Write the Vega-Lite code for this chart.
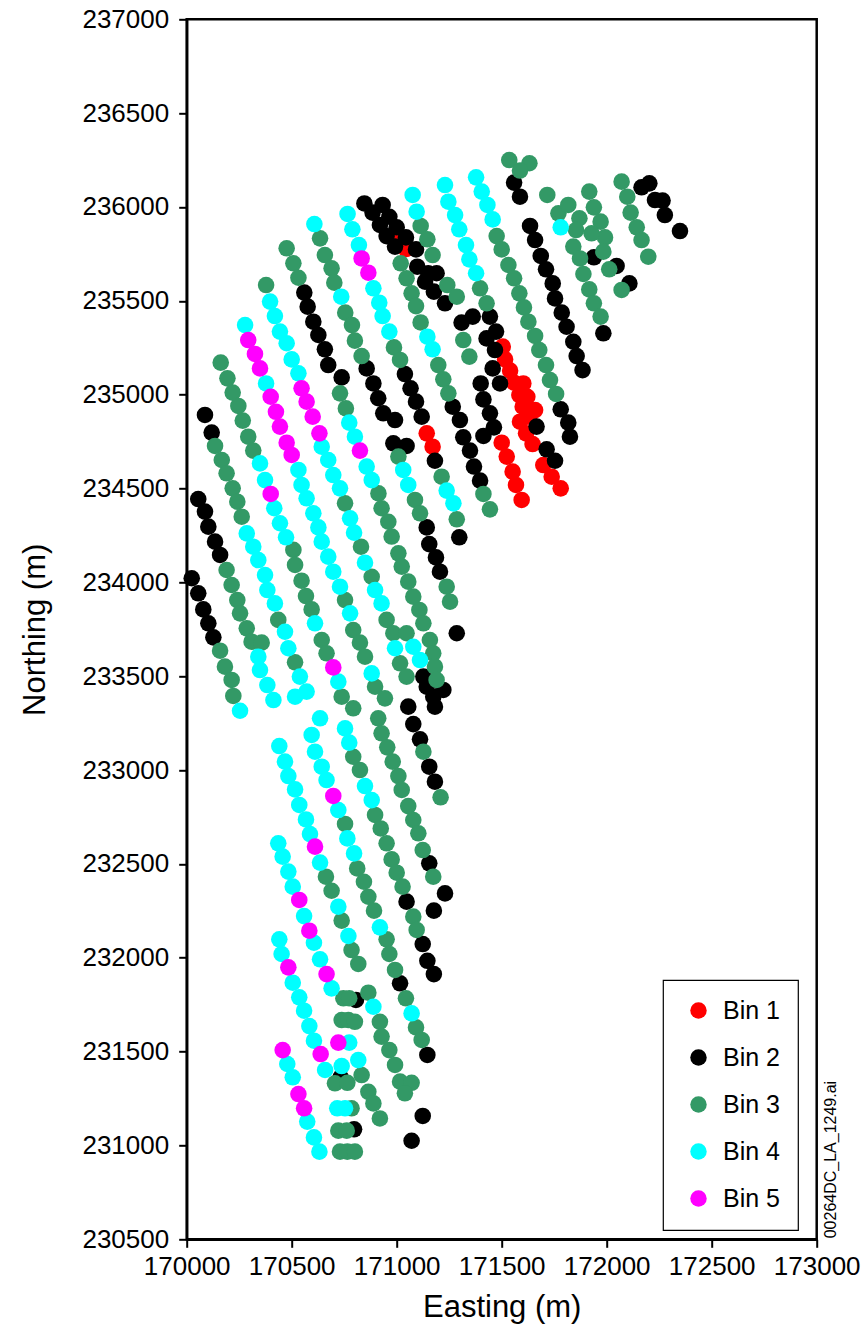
{
  "$schema": "https://vega.github.io/schema/vega-lite/v6.json",
  "width": 630,
  "height": 1220,
  "autosize": {"type": "none"},
  "padding": {"left": 186.7, "top": 19.3, "right": 50.3, "bottom": 100.7},
  "background": "white",
  "config": {
    "font": "Liberation Sans",
    "view": {"stroke": "black", "strokeWidth": 2.5},
    "axis": {"grid": false, "domainColor": "black", "domainWidth": 2.5, "tickColor": "black", "tickWidth": 2, "tickSize": 8, "labelColor": "black", "labelFontSize": 26, "labelFont": "Liberation Sans", "titleFont": "Liberation Sans", "titleFontWeight": "normal", "titleFontSize": 31, "titleColor": "black", "labelOverlap": false, "labelFlush": false, "labelBound": false},
    "legend": {"strokeColor": "black", "strokeWidth": 1.2, "fillColor": "white", "padding": 18}
  },
  "layer": [
    {
      "data": {"values": [
        {"e":171008,"n":235828,"b":1},{"e":171044,"n":235776,"b":1},{"e":171505,"n":235256,"b":1},{"e":171516,"n":235188,"b":1},{"e":171540,"n":235128,"b":1},{"e":171559,"n":235064,"b":1},{"e":171584,"n":234998,"b":1},{"e":171600,"n":234936,"b":1},{"e":171632,"n":234883,"b":1},{"e":171587,"n":234856,"b":1},{"e":171603,"n":235060,"b":1},{"e":171622,"n":234989,"b":1},{"e":171659,"n":234918,"b":1},{"e":171143,"n":234794,"b":1},{"e":171171,"n":234723,"b":1},{"e":171500,"n":234744,"b":1},{"e":171524,"n":234670,"b":1},{"e":171552,"n":234590,"b":1},{"e":171568,"n":234519,"b":1},{"e":171595,"n":234439,"b":1},{"e":171616,"n":234794,"b":1},{"e":171647,"n":234737,"b":1},{"e":171698,"n":234625,"b":1},{"e":171738,"n":234563,"b":1},{"e":171781,"n":234501,"b":1},
        {"e":170846,"n":236019,"b":2},{"e":170933,"n":236011,"b":2},{"e":170885,"n":235970,"b":2},{"e":170965,"n":235948,"b":2},{"e":170920,"n":235904,"b":2},{"e":171000,"n":235892,"b":2},{"e":170952,"n":235845,"b":2},{"e":171044,"n":235838,"b":2},{"e":170992,"n":235789,"b":2},{"e":171092,"n":235774,"b":2},{"e":171098,"n":235682,"b":2},{"e":171150,"n":235647,"b":2},{"e":171190,"n":235647,"b":2},{"e":171135,"n":235602,"b":2},{"e":170560,"n":235544,"b":2},{"e":171177,"n":235549,"b":2},{"e":170576,"n":235469,"b":2},{"e":171230,"n":235487,"b":2},{"e":170603,"n":235389,"b":2},{"e":170627,"n":235318,"b":2},{"e":170658,"n":235242,"b":2},{"e":170674,"n":235158,"b":2},{"e":170857,"n":235140,"b":2},{"e":171039,"n":235110,"b":2},{"e":170738,"n":235092,"b":2},{"e":170889,"n":235060,"b":2},{"e":171066,"n":235034,"b":2},{"e":170912,"n":234981,"b":2},{"e":171092,"n":234963,"b":2},{"e":170936,"n":234901,"b":2},{"e":170992,"n":234865,"b":2},{"e":171119,"n":234883,"b":2},{"e":170087,"n":234892,"b":2},
        {"e":171559,"n":236130,"b":2},{"e":171587,"n":236055,"b":2},{"e":171781,"n":234922,"b":2},{"e":171817,"n":234851,"b":2},{"e":171635,"n":235899,"b":2},{"e":171659,"n":235824,"b":2},{"e":171686,"n":235739,"b":2},{"e":171711,"n":235668,"b":2},{"e":171743,"n":235593,"b":2},{"e":171754,"n":235513,"b":2},{"e":171786,"n":235437,"b":2},{"e":171809,"n":235362,"b":2},{"e":171841,"n":235282,"b":2},{"e":171857,"n":235206,"b":2},{"e":171885,"n":235131,"b":2},{"e":171984,"n":235327,"b":2},{"e":171939,"n":235732,"b":2},{"e":172047,"n":235686,"b":2},{"e":172108,"n":235593,"b":2},{"e":172166,"n":236105,"b":2},{"e":172203,"n":236126,"b":2},{"e":172230,"n":236037,"b":2},{"e":172266,"n":236034,"b":2},{"e":172277,"n":235957,"b":2},{"e":172349,"n":235872,"b":2},{"e":171309,"n":235384,"b":2},{"e":171362,"n":235416,"b":2},{"e":171444,"n":235416,"b":2},{"e":171473,"n":235336,"b":2},{"e":171428,"n":235300,"b":2},{"e":171468,"n":235238,"b":2},{"e":171457,"n":235140,"b":2},{"e":171492,"n":235060,"b":2},{"e":171400,"n":235060,"b":2},{"e":171413,"n":234975,"b":2},{"e":171444,"n":234901,"b":2},{"e":171267,"n":234936,"b":2},{"e":171301,"n":234865,"b":2},
        {"e":170119,"n":234798,"b":2},{"e":170984,"n":234741,"b":2},{"e":171047,"n":234727,"b":2},{"e":171182,"n":234648,"b":2},{"e":170055,"n":234444,"b":2},{"e":170087,"n":234377,"b":2},{"e":171143,"n":234293,"b":2},{"e":170103,"n":234297,"b":2},{"e":171155,"n":234204,"b":2},{"e":170135,"n":234217,"b":2},{"e":171187,"n":234133,"b":2},{"e":170159,"n":234146,"b":2},{"e":171206,"n":234057,"b":2},{"e":170024,"n":234022,"b":2},{"e":170055,"n":233942,"b":2},{"e":170079,"n":233856,"b":2},{"e":170103,"n":233782,"b":2},{"e":170127,"n":233707,"b":2},{"e":171127,"n":233498,"b":2},{"e":171143,"n":233444,"b":2},{"e":171174,"n":233391,"b":2},{"e":171222,"n":233427,"b":2},{"e":171055,"n":233338,"b":2},{"e":171182,"n":233338,"b":2},
        {"e":171317,"n":234773,"b":2},{"e":171349,"n":234702,"b":2},{"e":171368,"n":234617,"b":2},{"e":171397,"n":234542,"b":2},{"e":171413,"n":234780,"b":2},{"e":171463,"n":234826,"b":2},{"e":171666,"n":234830,"b":2},{"e":171714,"n":234709,"b":2},{"e":171754,"n":234648,"b":2},{"e":171825,"n":234776,"b":2},{"e":171298,"n":234240,"b":2},{"e":171286,"n":233729,"b":2},
        {"e":171079,"n":233245,"b":2},{"e":171111,"n":233164,"b":2},{"e":171155,"n":233018,"b":2},{"e":171182,"n":232938,"b":2},{"e":171155,"n":232503,"b":2},{"e":171230,"n":232343,"b":2},{"e":171047,"n":232299,"b":2},{"e":171177,"n":232251,"b":2},{"e":171124,"n":232073,"b":2},
        {"e":171146,"n":231984,"b":2},{"e":171177,"n":231913,"b":2},{"e":171016,"n":231864,"b":2},{"e":170806,"n":231775,"b":2},{"e":171146,"n":231482,"b":2},{"e":170733,"n":231363,"b":2},{"e":171124,"n":231157,"b":2},{"e":170797,"n":231086,"b":2},{"e":171071,"n":231025,"b":2},
        {"e":171114,"n":235899,"b":3},{"e":170635,"n":235833,"b":3},{"e":171146,"n":235828,"b":3},{"e":170476,"n":235780,"b":3},{"e":170658,"n":235744,"b":3},{"e":171171,"n":235744,"b":3},{"e":171019,"n":235700,"b":3},{"e":170508,"n":235700,"b":3},{"e":170690,"n":235673,"b":3},{"e":170532,"n":235623,"b":3},{"e":171047,"n":235620,"b":3},{"e":170703,"n":235597,"b":3},{"e":170378,"n":235584,"b":3},{"e":171071,"n":235540,"b":3},{"e":171092,"n":235472,"b":3},{"e":170755,"n":235437,"b":3},{"e":171114,"n":235385,"b":3},{"e":170787,"n":235371,"b":3},{"e":170801,"n":235288,"b":3},{"e":170987,"n":235252,"b":3},{"e":170833,"n":235206,"b":3},{"e":171016,"n":235185,"b":3},{"e":171198,"n":235158,"b":3},{"e":170162,"n":235171,"b":3},{"e":170194,"n":235087,"b":3},{"e":171222,"n":235082,"b":3},{"e":170730,"n":235007,"b":3},{"e":170219,"n":235011,"b":3},{"e":170246,"n":234940,"b":3},{"e":170758,"n":234927,"b":3},{"e":170267,"n":234862,"b":3},
        {"e":171536,"n":236250,"b":3},{"e":171632,"n":236233,"b":3},{"e":171587,"n":236194,"b":3},{"e":171476,"n":235845,"b":3},{"e":171500,"n":235774,"b":3},{"e":171532,"n":235691,"b":3},{"e":171559,"n":235620,"b":3},{"e":171584,"n":235540,"b":3},{"e":171606,"n":235465,"b":3},{"e":171627,"n":235389,"b":3},{"e":171659,"n":235313,"b":3},{"e":171679,"n":235238,"b":3},{"e":171711,"n":235158,"b":3},{"e":171730,"n":235078,"b":3},{"e":171759,"n":235004,"b":3},{"e":171717,"n":236064,"b":3},{"e":171770,"n":235966,"b":3},{"e":171817,"n":236011,"b":3},{"e":171870,"n":235940,"b":3},{"e":171854,"n":235877,"b":3},{"e":171917,"n":236082,"b":3},{"e":171939,"n":235998,"b":3},{"e":171971,"n":235922,"b":3},{"e":171992,"n":235838,"b":3},{"e":171928,"n":235860,"b":3},{"e":171841,"n":235789,"b":3},{"e":171984,"n":235762,"b":3},{"e":171873,"n":235726,"b":3},{"e":171889,"n":235643,"b":3},{"e":171917,"n":235561,"b":3},{"e":171939,"n":235487,"b":3},{"e":171971,"n":235416,"b":3},{"e":172012,"n":235668,"b":3},{"e":172071,"n":235558,"b":3},{"e":172071,"n":236135,"b":3},{"e":172098,"n":236055,"b":3},{"e":172114,"n":235970,"b":3},{"e":172143,"n":235892,"b":3},{"e":172166,"n":235824,"b":3},{"e":172198,"n":235735,"b":3},{"e":171241,"n":235584,"b":3},{"e":171286,"n":235522,"b":3},{"e":171317,"n":235291,"b":3},{"e":171346,"n":235203,"b":3},{"e":171246,"n":235007,"b":3},{"e":171397,"n":235567,"b":3},{"e":171428,"n":235487,"b":3},
        {"e":170135,"n":234727,"b":3},{"e":170293,"n":234776,"b":3},{"e":170317,"n":234702,"b":3},{"e":171008,"n":234670,"b":3},{"e":170167,"n":234652,"b":3},{"e":171214,"n":234563,"b":3},{"e":170190,"n":234581,"b":3},{"e":170219,"n":234501,"b":3},{"e":170913,"n":234474,"b":3},{"e":171087,"n":234439,"b":3},{"e":170241,"n":234430,"b":3},{"e":170754,"n":234421,"b":3},{"e":170928,"n":234395,"b":3},{"e":171111,"n":234368,"b":3},{"e":170262,"n":234350,"b":3},{"e":170960,"n":234323,"b":3},{"e":170976,"n":234244,"b":3},{"e":170508,"n":234173,"b":3},{"e":170830,"n":234190,"b":3},{"e":171008,"n":234155,"b":3},{"e":170516,"n":234093,"b":3},{"e":171024,"n":234084,"b":3},{"e":170190,"n":234066,"b":3},{"e":170547,"n":234009,"b":3},{"e":170881,"n":234030,"b":3},{"e":171055,"n":234004,"b":3},{"e":170214,"n":233986,"b":3},{"e":170568,"n":233927,"b":3},{"e":170754,"n":233906,"b":3},{"e":171079,"n":233924,"b":3},{"e":170241,"n":233906,"b":3},{"e":170595,"n":233856,"b":3},{"e":171108,"n":233853,"b":3},{"e":170254,"n":233835,"b":3},{"e":170436,"n":233800,"b":3},{"e":170793,"n":233746,"b":3},{"e":170952,"n":233800,"b":3},{"e":171127,"n":233782,"b":3},{"e":170286,"n":233755,"b":3},{"e":170643,"n":233693,"b":3},{"e":170825,"n":233679,"b":3},{"e":170984,"n":233729,"b":3},{"e":171047,"n":233729,"b":3},{"e":171158,"n":233693,"b":3},{"e":170309,"n":233684,"b":3},{"e":170357,"n":233679,"b":3},{"e":170666,"n":233622,"b":3},{"e":170849,"n":233604,"b":3},{"e":171016,"n":233569,"b":3},{"e":171174,"n":233622,"b":3},{"e":170159,"n":233636,"b":3},{"e":170516,"n":233574,"b":3},{"e":171047,"n":233498,"b":3},{"e":171182,"n":233551,"b":3},{"e":170182,"n":233551,"b":3},{"e":170897,"n":233444,"b":3},{"e":171190,"n":233480,"b":3},{"e":170214,"n":233480,"b":3},{"e":170738,"n":233391,"b":3},{"e":170944,"n":233382,"b":3},{"e":170222,"n":233395,"b":3},{"e":170793,"n":233329,"b":3},
        {"e":171286,"n":234336,"b":3},{"e":171413,"n":234471,"b":3},{"e":171444,"n":234389,"b":3},{"e":171238,"n":233977,"b":3},{"e":171254,"n":233897,"b":3},
        {"e":170912,"n":233276,"b":3},{"e":170928,"n":233196,"b":3},{"e":170955,"n":233121,"b":3},{"e":170793,"n":233071,"b":3},{"e":171127,"n":233098,"b":3},{"e":170981,"n":233045,"b":3},{"e":170825,"n":233000,"b":3},{"e":171008,"n":232968,"b":3},{"e":171024,"n":232894,"b":3},{"e":171209,"n":232855,"b":3},{"e":171055,"n":232808,"b":3},{"e":170897,"n":232761,"b":3},{"e":170754,"n":232713,"b":3},{"e":171079,"n":232734,"b":3},{"e":170924,"n":232689,"b":3},{"e":171103,"n":232663,"b":3},{"e":170952,"n":232610,"b":3},{"e":171124,"n":232574,"b":3},{"e":170976,"n":232524,"b":3},{"e":170812,"n":232476,"b":3},{"e":171000,"n":232453,"b":3},{"e":170663,"n":232432,"b":3},{"e":171174,"n":232432,"b":3},{"e":170844,"n":232405,"b":3},{"e":171028,"n":232379,"b":3},{"e":170690,"n":232357,"b":3},{"e":170865,"n":232325,"b":3},{"e":170892,"n":232251,"b":3},{"e":171079,"n":232219,"b":3},{"e":170738,"n":232198,"b":3},{"e":171095,"n":232148,"b":3},{"e":170952,"n":232098,"b":3},
        {"e":170785,"n":232041,"b":3},{"e":170965,"n":232020,"b":3},{"e":170817,"n":231967,"b":3},{"e":170992,"n":231935,"b":3},{"e":170865,"n":231814,"b":3},{"e":170746,"n":231784,"b":3},{"e":170774,"n":231784,"b":3},{"e":171044,"n":231784,"b":3},{"e":170738,"n":231668,"b":3},{"e":170770,"n":231668,"b":3},{"e":170801,"n":231659,"b":3},{"e":170920,"n":231659,"b":3},{"e":171092,"n":231629,"b":3},{"e":170928,"n":231580,"b":3},{"e":171119,"n":231562,"b":3},{"e":170965,"n":231508,"b":3},{"e":170992,"n":231429,"b":3},{"e":170833,"n":231375,"b":3},{"e":170706,"n":231331,"b":3},{"e":170765,"n":231334,"b":3},{"e":171016,"n":231340,"b":3},{"e":171071,"n":231334,"b":3},{"e":171039,"n":231278,"b":3},{"e":170865,"n":231286,"b":3},{"e":170889,"n":231224,"b":3},{"e":170785,"n":231198,"b":3},{"e":170920,"n":231144,"b":3},{"e":170722,"n":231079,"b":3},{"e":170762,"n":231079,"b":3},{"e":170730,"n":230967,"b":3},{"e":170765,"n":230967,"b":3},{"e":170801,"n":230967,"b":3},
        {"e":171076,"n":236064,"b":4},{"e":171095,"n":235975,"b":4},{"e":170766,"n":235963,"b":4},{"e":170608,"n":235909,"b":4},{"e":170789,"n":235881,"b":4},{"e":170820,"n":235797,"b":4},{"e":170889,"n":235567,"b":4},{"e":170736,"n":235522,"b":4},{"e":170397,"n":235496,"b":4},{"e":170917,"n":235490,"b":4},{"e":170420,"n":235419,"b":4},{"e":170933,"n":235419,"b":4},{"e":170278,"n":235371,"b":4},{"e":170444,"n":235336,"b":4},{"e":170965,"n":235336,"b":4},{"e":171146,"n":235309,"b":4},{"e":170476,"n":235274,"b":4},{"e":171171,"n":235242,"b":4},{"e":170500,"n":235188,"b":4},{"e":170532,"n":235114,"b":4},{"e":170378,"n":235060,"b":4},{"e":170774,"n":234851,"b":4},
        {"e":171230,"n":236117,"b":4},{"e":171246,"n":236028,"b":4},{"e":171278,"n":235957,"b":4},{"e":171298,"n":235881,"b":4},{"e":171330,"n":235797,"b":4},{"e":171346,"n":235721,"b":4},{"e":171378,"n":235647,"b":4},{"e":171378,"n":236158,"b":4},{"e":171405,"n":236082,"b":4},{"e":171432,"n":236011,"b":4},{"e":171457,"n":235934,"b":4},{"e":171781,"n":235892,"b":4},
        {"e":170801,"n":234776,"b":4},{"e":170643,"n":234723,"b":4},{"e":170349,"n":234634,"b":4},{"e":170532,"n":234599,"b":4},{"e":170674,"n":234652,"b":4},{"e":170857,"n":234617,"b":4},{"e":171031,"n":234599,"b":4},{"e":170373,"n":234545,"b":4},{"e":170547,"n":234519,"b":4},{"e":170698,"n":234572,"b":4},{"e":170881,"n":234545,"b":4},{"e":171055,"n":234519,"b":4},{"e":170571,"n":234448,"b":4},{"e":170730,"n":234501,"b":4},{"e":170417,"n":234395,"b":4},{"e":170603,"n":234368,"b":4},{"e":170444,"n":234315,"b":4},{"e":170627,"n":234293,"b":4},{"e":170778,"n":234341,"b":4},{"e":170286,"n":234261,"b":4},{"e":170473,"n":234240,"b":4},{"e":170643,"n":234217,"b":4},{"e":170797,"n":234265,"b":4},{"e":170317,"n":234190,"b":4},{"e":170674,"n":234137,"b":4},{"e":170341,"n":234119,"b":4},{"e":170698,"n":234057,"b":4},{"e":170849,"n":234105,"b":4},{"e":170373,"n":234039,"b":4},{"e":170730,"n":233977,"b":4},{"e":170384,"n":233959,"b":4},{"e":170897,"n":233959,"b":4},{"e":170420,"n":233888,"b":4},{"e":170778,"n":233835,"b":4},{"e":170928,"n":233888,"b":4},{"e":170611,"n":233782,"b":4},{"e":170468,"n":233737,"b":4},{"e":170484,"n":233649,"b":4},{"e":170992,"n":233649,"b":4},{"e":171079,"n":233657,"b":4},{"e":171111,"n":233586,"b":4},{"e":170341,"n":233604,"b":4},{"e":170881,"n":233515,"b":4},{"e":170349,"n":233533,"b":4},{"e":170539,"n":233498,"b":4},{"e":170722,"n":233471,"b":4},{"e":170384,"n":233453,"b":4},{"e":170571,"n":233418,"b":4},{"e":170516,"n":233391,"b":4},{"e":170413,"n":233373,"b":4},{"e":170254,"n":233316,"b":4},
        {"e":171238,"n":234489,"b":4},{"e":171270,"n":234421,"b":4},
        {"e":170635,"n":233276,"b":4},{"e":170754,"n":233222,"b":4},{"e":170441,"n":233128,"b":4},{"e":170595,"n":233187,"b":4},{"e":170774,"n":233146,"b":4},{"e":170611,"n":233098,"b":4},{"e":170468,"n":233045,"b":4},{"e":170643,"n":233018,"b":4},{"e":170484,"n":232968,"b":4},{"e":170666,"n":232947,"b":4},{"e":170849,"n":232915,"b":4},{"e":170516,"n":232897,"b":4},{"e":170881,"n":232840,"b":4},{"e":170536,"n":232814,"b":4},{"e":170722,"n":232787,"b":4},{"e":170568,"n":232737,"b":4},{"e":170587,"n":232659,"b":4},{"e":170765,"n":232636,"b":4},{"e":170436,"n":232610,"b":4},{"e":170797,"n":232556,"b":4},{"e":170457,"n":232539,"b":4},{"e":170635,"n":232507,"b":4},{"e":170484,"n":232459,"b":4},{"e":170505,"n":232379,"b":4},{"e":170722,"n":232272,"b":4},{"e":170559,"n":232222,"b":4},{"e":170920,"n":232162,"b":4},{"e":170441,"n":232098,"b":4},{"e":170606,"n":232080,"b":4},{"e":170770,"n":232116,"b":4},
        {"e":170452,"n":232020,"b":4},{"e":170635,"n":231992,"b":4},{"e":170505,"n":231867,"b":4},{"e":170690,"n":231837,"b":4},{"e":170536,"n":231789,"b":4},{"e":170559,"n":231718,"b":4},{"e":170889,"n":231739,"b":4},{"e":171071,"n":231704,"b":4},{"e":170584,"n":231636,"b":4},{"e":170606,"n":231558,"b":4},{"e":170774,"n":231548,"b":4},{"e":170817,"n":231455,"b":4},{"e":170479,"n":231434,"b":4},{"e":170738,"n":231423,"b":4},{"e":170659,"n":231402,"b":4},{"e":170505,"n":231363,"b":4},{"e":170717,"n":231198,"b":4},{"e":170754,"n":231198,"b":4},{"e":170574,"n":231127,"b":4},{"e":170606,"n":231043,"b":4},{"e":170632,"n":230967,"b":4},
        {"e":170833,"n":235726,"b":5},{"e":170865,"n":235650,"b":5},{"e":170293,"n":235291,"b":5},{"e":170325,"n":235217,"b":5},{"e":170349,"n":235140,"b":5},{"e":170547,"n":235034,"b":5},{"e":170400,"n":234989,"b":5},{"e":170571,"n":234963,"b":5},{"e":170425,"n":234909,"b":5},{"e":170600,"n":234883,"b":5},{"e":170444,"n":234830,"b":5},{"e":170476,"n":234744,"b":5},{"e":170632,"n":234794,"b":5},{"e":170500,"n":234679,"b":5},{"e":170825,"n":234702,"b":5},{"e":170400,"n":234471,"b":5},{"e":170698,"n":233547,"b":5},{"e":170698,"n":232862,"b":5},{"e":170611,"n":232592,"b":5},{"e":170536,"n":232308,"b":5},{"e":170584,"n":232144,"b":5},{"e":170484,"n":231949,"b":5},{"e":170666,"n":231913,"b":5},{"e":170722,"n":231548,"b":5},{"e":170457,"n":231508,"b":5},{"e":170638,"n":231487,"b":5},{"e":170532,"n":231274,"b":5},{"e":170559,"n":231198,"b":5}
      ]},
      "mark": {"type": "circle", "size": 275, "opacity": 1},
      "encoding": {
        "x": {"field": "e", "type": "quantitative", "scale": {"domain": [170000, 173000], "nice": false, "zero": false}, "axis": {"title": "Easting (m)", "values": [170000, 170500, 171000, 171500, 172000, 172500, 173000], "format": "d", "labelPadding": 6, "titlePadding": 13}},
        "y": {"field": "n", "type": "quantitative", "scale": {"domain": [230500, 237000], "nice": false, "zero": false}, "axis": {"title": "Northing (m)", "values": [230500, 231000, 231500, 232000, 232500, 233000, 233500, 234000, 234500, 235000, 235500, 236000, 236500, 237000], "format": "d", "labelPadding": 10, "titlePadding": 30}},
        "color": {"field": "b", "type": "ordinal", "scale": {"domain": [1, 2, 3, 4, 5], "range": ["#ff0000", "#000000", "#339966", "#00ffff", "#ff00ff"]},
          "legend": {"orient": "none", "legendX": 476.3, "legendY": 960.7, "title": null, "labelFontSize": 25, "labelFont": "Liberation Sans", "labelColor": "black", "symbolType": "circle", "symbolSize": 270, "symbolStrokeWidth": 0, "symbolOpacity": 1, "symbolOffset": 5, "labelOffset": 12, "rowPadding": 21, "labelExpr": "'Bin ' + datum.label + ' '"}}
      }
    },
    {
      "data": {"values": [{}]},
      "mark": {"type": "text", "text": "00264DC_LA_1249.ai", "angle": 270, "align": "left", "baseline": "alphabetic", "dx": 1, "dy": 19, "fontSize": 16, "font": "Liberation Sans", "color": "black"},
      "encoding": {"x": {"datum": 173000}, "y": {"datum": 230500}}
    }
  ]
}
